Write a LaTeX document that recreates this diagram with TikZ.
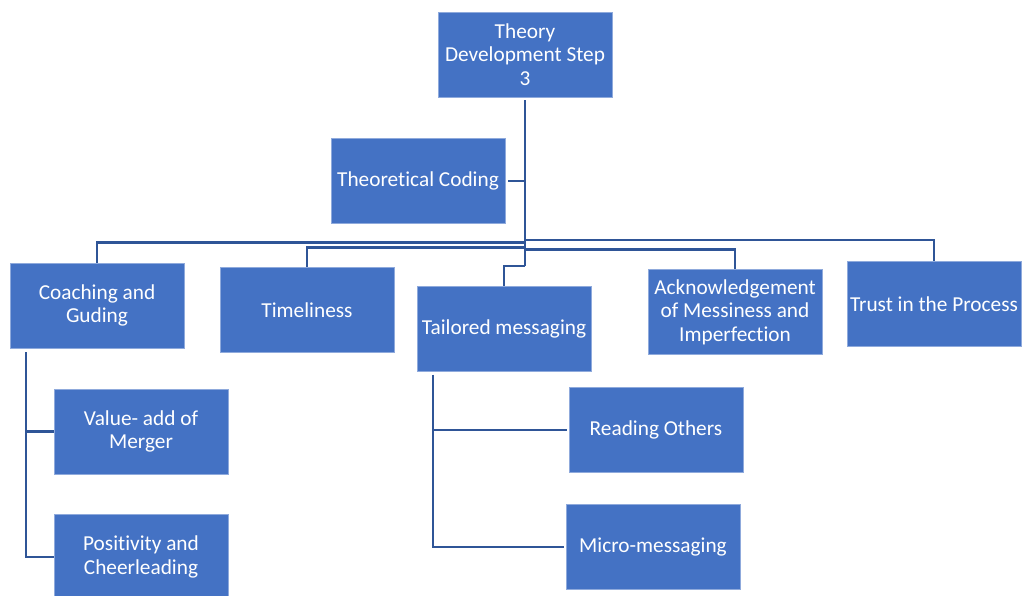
\documentclass[tikz,border=0pt]{standalone}
\usepackage{fontspec}
\setmainfont{Carlito}[Ligatures={NoCommon}]
\definecolor{boxblue}{HTML}{4472C4}
\definecolor{boxedge}{HTML}{8FAADC}
\definecolor{linkblue}{HTML}{2F5597}
\begin{document}
\begin{tikzpicture}[x=1pt,y=-1pt,
  box/.style={rectangle, fill=boxblue, draw=boxedge, line width=0.6pt,
    minimum width=174pt, minimum height=85pt, inner sep=0pt,
    align=center, text=white, font=\fontsize{21.3}{23.5}\selectfont},
  conn/.style={draw=linkblue, line width=2.7pt}]
\useasboundingbox (0,0) rectangle (1022,596);
\node[box] (root)  at (525,54.5)  {Theory\\Development Step\\3};
\node[box] (tc)    at (418,181)   {Theoretical Coding};
\node[box] (coach) at (97,305.5)  {Coaching and\\Guding};
\node[box] (time)  at (307,310)   {Timeliness};
\node[box] (tail)  at (504,329)   {Tailored messaging};
\node[box] (ack)   at (735,312)   {Acknowledgement\\of Messiness and\\Imperfection};
\node[box] (trust) at (934,304)   {Trust in the Process};
\node[box] (val)   at (141,431.5) {Value- add of\\Merger};
\node[box] (pos)   at (141,557)   {Positivity and\\Cheerleading};
\node[box] (read)  at (656,430)   {Reading Others};
\node[box] (micro) at (653,547)   {Micro-messaging};
\coordinate (b1) at (0,240);
\coordinate (b2) at (0,242.5);
\coordinate (b3) at (0,247.5);
\coordinate (b4) at (0,249.5);
\coordinate (b5) at (0,266);
\coordinate (cv) at (26,0);
\coordinate (tv) at (433,0);
\draw[conn, shorten <=3pt] (root.south) -- (root.south |- b5);
\draw[conn, shorten <=3pt] (tc.east) -- (tc.east -| root.south);
\draw[conn] (root.south |- b1) -| (trust.north);
\draw[conn] (root.south |- b2) -| (coach.north);
\draw[conn] (root.south |- b3) -| (time.north);
\draw[conn] (root.south |- b4) -| (ack.north);
\draw[conn] (root.south |- b5) -| (tail.north);
\draw[conn] ([yshift=-4pt]coach.south -| cv) |- (val.west);
\draw[conn] ([yshift=-4pt]coach.south -| cv) |- (pos.west);
\draw[conn] ([yshift=-3pt]tail.south -| tv) |- ([xshift=-2pt]read.west);
\draw[conn] ([yshift=-3pt]tail.south -| tv) |- ([xshift=-2pt]micro.west);
\end{tikzpicture}
\end{document}
